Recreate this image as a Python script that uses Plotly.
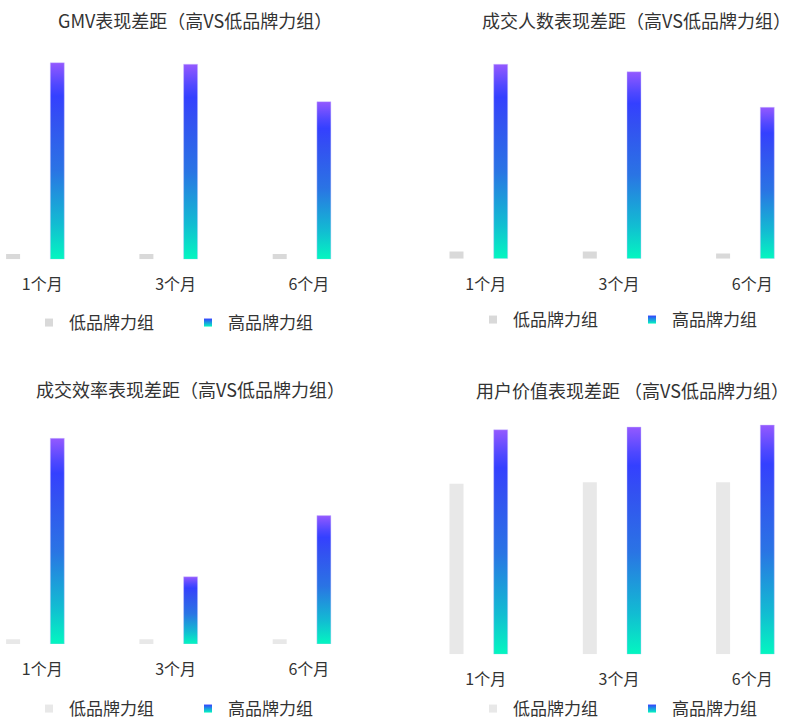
import plotly.graph_objects as go

# ---- data -------------------------------------------------------------
categories = ["1个月", "3个月", "6个月"]

gmv_low = [2.7, 2.7, 2.7]
gmv_high = [100.0, 99.2, 80.2]

buyers_low = [3.6, 3.6, 2.7]
buyers_high = [98.9, 95.1, 77.0]

efficiency_low = [2.4, 2.4, 2.4]
efficiency_high = [104.6, 34.2, 65.3]

user_value_low = [86.8, 87.5, 87.5]
user_value_high = [114.2, 115.6, 116.6]

panel_titles = [
    "GMV表现差距（高VS低品牌力组）",
    "成交人数表现差距（高VS低品牌力组）",
    "成交效率表现差距（高VS低品牌力组）",
    "用户价值表现差距 （高VS低品牌力组）",
]
legend_names = ["低品牌力组", "高品牌力组"]

# ---- page geometry (pixels) -------------------------------------------
W, H = 792, 722
PX_PER_CAT = 133.3      # horizontal distance between categories
PX_PER_UNIT = 1.966     # vertical pixels per value unit
BAR_W = 14 / PX_PER_CAT
LOW_OFF = -29.2 / PX_PER_CAT
HIGH_OFF = 15.0 / PX_PER_CAT

TEXT = "#333333"
FONT = "Noto Sans CJK SC, Noto Sans, sans-serif"
GRADIENT = [
    [0.00, "#03f7c0"],
    [0.18, "#12bcd2"],
    [0.45, "#2a74e4"],
    [0.72, "#3350f2"],
    [0.83, "#3440ff"],
    [0.89, "#5048ff"],
    [1.00, "#9459ff"],
]

panels = [
    # low, high, low colour, x-origin px, x-domain px, baseline px, top px, title pos, legend pos
    dict(low=gmv_low, high=gmv_high, lowc="#d9d9d9", x0=42.3, xd=(0, 400),
         base=259.3, top=40, title=(195, 20), leg=(29, 323)),
    dict(low=buyers_low, high=buyers_high, lowc="#d9d9d9", x0=485.7, xd=(420, 792),
         base=258.7, top=40, title=(636, 20), leg=(473, 320)),
    dict(low=efficiency_low, high=efficiency_high, lowc="#e8e8e8", x0=42.3, xd=(0, 400),
         base=644, top=410, title=(190.5, 389), leg=(29, 709)),
    dict(low=user_value_low, high=user_value_high, lowc="#e8e8e8", x0=485.7, xd=(420, 792),
         base=654.3, top=410, title=(632, 390), leg=(473, 709)),
]

fig = go.Figure()
layout = dict(
    width=W, height=H,
    margin=dict(l=0, r=0, t=0, b=0, autoexpand=False),
    paper_bgcolor="white", plot_bgcolor="white",
    font=dict(family=FONT, color=TEXT),
    barmode="overlay",
    showlegend=True,
    annotations=[],
)

for i, p in enumerate(panels):
    k = "" if i == 0 else str(i + 1)
    xa, ya = "x" + k, "y" + k
    leg = "legend" + k
    cats = list(range(len(categories)))

    # low-brand bars
    fig.add_trace(go.Bar(
        x=cats, y=p["low"], width=BAR_W, offset=LOW_OFF - BAR_W / 2,
        marker=dict(color=p["lowc"], line=dict(width=0)),
        xaxis=xa, yaxis=ya, showlegend=False, hoverinfo="y",
    ))

    # high-brand bars, each filled with a vertical gradient
    for c, v in zip(cats, p["high"]):
        xl = c + HIGH_OFF - BAR_W / 2
        xr = c + HIGH_OFF + BAR_W / 2
        fig.add_trace(go.Scatter(
            x=[xl, xr, xr, xl, xl], y=[0, 0, v, v, 0],
            mode="lines", fill="toself",
            line=dict(width=0.8, color="rgba(205,195,255,0.55)"),
            fillgradient=dict(type="vertical", colorscale=GRADIENT),
            xaxis=xa, yaxis=ya, showlegend=False, hoveron="fills",
            name=legend_names[1],
        ))

    # legend entries
    fig.add_trace(go.Scatter(
        x=[None], y=[None], mode="markers", name=legend_names[0],
        marker=dict(symbol="square", size=8, color=p["lowc"]),
        xaxis=xa, yaxis=ya, legend=leg,
    ))
    fig.add_trace(go.Scatter(
        x=[None], y=[None], mode="markers", name=legend_names[1],
        marker=dict(symbol="square", size=8, color="#3440ff",
                    gradient=dict(type="vertical", color="#03f7c0")),
        xaxis=xa, yaxis=ya, legend=leg,
    ))

    # axes
    xr0 = (p["xd"][0] - p["x0"]) / PX_PER_CAT
    xr1 = (p["xd"][1] - p["x0"]) / PX_PER_CAT
    layout["xaxis" + k] = dict(
        domain=[p["xd"][0] / W, p["xd"][1] / W], range=[xr0, xr1],
        anchor=ya, tickmode="array", tickvals=cats, ticktext=categories,
        tickfont=dict(size=16, color=TEXT), ticklabelstandoff=14,
        showgrid=False, zeroline=False, showline=False, ticks="",
        automargin=False, fixedrange=True,
    )
    ymax = (p["base"] - p["top"]) / PX_PER_UNIT
    layout["yaxis" + k] = dict(
        domain=[1 - p["base"] / H, 1 - p["top"] / H], range=[0, ymax],
        anchor=xa, visible=False, automargin=False, fixedrange=True,
    )

    # legend box
    layout[leg] = dict(
        orientation="h", x=p["leg"][0] / W, y=1 - p["leg"][1] / H,
        xanchor="left", yanchor="middle",
        font=dict(size=17, color=TEXT), bgcolor="rgba(0,0,0,0)",
        entrywidth=114, itemclick=False, itemdoubleclick=False,
    )

    # panel title
    layout["annotations"].append(dict(
        text=panel_titles[i], x=p["title"][0] / W, y=1 - p["title"][1] / H,
        xref="paper", yref="paper", xanchor="center", yanchor="middle",
        showarrow=False, font=dict(size=18, color=TEXT),
    ))

fig.update_layout(**layout)
fig.write_html("out.html")
